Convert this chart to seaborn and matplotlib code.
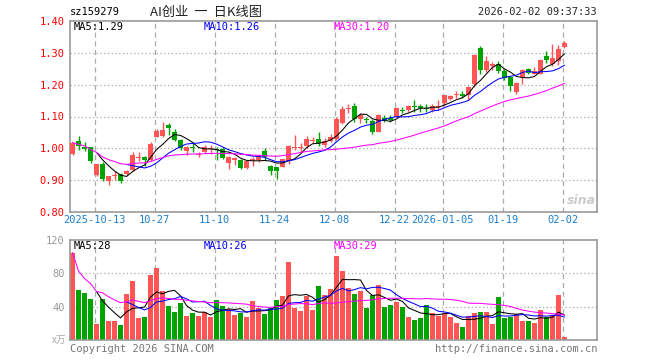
import numpy as np
import pandas as pd
import matplotlib
matplotlib.use("Agg")
import matplotlib.pyplot as plt
import seaborn as sns

# daily K data (83 trading days), volume in 万
opens = [0.982, 1.023, 1.005, 1.003, 0.917, 0.952, 0.896, 0.913, 0.918, 0.918,
         0.932, 0.969, 0.973, 0.962, 1.037, 1.040, 1.074, 1.050, 1.026, 0.993,
         1.005, 0.980, 0.987, 0.998, 0.998, 0.997, 0.955, 0.963, 0.963, 0.937,
         0.962, 0.963, 0.993, 0.946, 0.940, 0.942, 0.960, 1.000, 1.000, 1.007,
         1.024, 1.029, 1.011, 1.024, 1.029, 1.081, 1.122, 1.133, 1.091, 1.092,
         1.086, 1.052, 1.094, 1.094, 1.099, 1.118, 1.120, 1.134, 1.133, 1.128,
         1.121, 1.130, 1.142, 1.154, 1.168, 1.172, 1.166, 1.203, 1.316, 1.247,
         1.260, 1.266, 1.242, 1.224, 1.177, 1.224, 1.248, 1.235, 1.235, 1.289,
         1.266, 1.274, 1.318]
highs = [1.021, 1.038, 1.020, 1.005, 0.951, 0.957, 0.914, 0.928, 0.921, 0.932,
         0.990, 0.988, 0.975, 1.021, 1.062, 1.083, 1.080, 1.062, 1.028, 1.006,
         1.018, 0.990, 1.010, 1.012, 1.005, 1.005, 0.976, 0.972, 0.966, 0.962,
         0.974, 0.982, 1.001, 0.948, 0.942, 0.968, 1.010, 1.042, 1.016, 1.038,
         1.035, 1.052, 1.031, 1.045, 1.099, 1.133, 1.138, 1.141, 1.110, 1.100,
         1.091, 1.107, 1.104, 1.105, 1.131, 1.131, 1.136, 1.151, 1.138, 1.138,
         1.138, 1.151, 1.168, 1.169, 1.179, 1.179, 1.196, 1.296, 1.320, 1.289,
         1.271, 1.273, 1.250, 1.226, 1.207, 1.250, 1.252, 1.255, 1.280, 1.306,
         1.327, 1.324, 1.336]
lows = [0.980, 0.995, 0.993, 0.955, 0.913, 0.898, 0.884, 0.900, 0.892, 0.915,
        0.930, 0.960, 0.945, 0.960, 1.035, 1.035, 1.043, 1.022, 0.995, 0.979,
        0.988, 0.972, 0.985, 0.982, 0.962, 0.965, 0.934, 0.948, 0.935, 0.935,
        0.944, 0.958, 0.963, 0.916, 0.905, 0.940, 0.950, 0.995, 0.990, 1.000,
        1.016, 1.007, 1.003, 1.021, 1.026, 1.078, 1.110, 1.084, 1.081, 1.079,
        1.045, 1.050, 1.082, 1.084, 1.097, 1.110, 1.115, 1.114, 1.114, 1.114,
        1.114, 1.121, 1.132, 1.151, 1.159, 1.158, 1.151, 1.193, 1.235, 1.240,
        1.247, 1.238, 1.216, 1.180, 1.172, 1.203, 1.235, 1.232, 1.232, 1.269,
        1.259, 1.263, 1.316]
closes = [1.018, 1.007, 0.999, 0.961, 0.951, 0.903, 0.913, 0.917, 0.896, 0.929,
          0.979, 0.972, 0.962, 1.013, 1.055, 1.058, 1.064, 1.026, 1.000, 1.005,
          1.000, 0.983, 1.003, 1.000, 0.995, 0.970, 0.974, 0.969, 0.938, 0.960,
          0.964, 0.973, 0.974, 0.929, 0.929, 0.965, 1.008, 1.004, 1.003, 1.029,
          1.027, 1.016, 1.024, 1.035, 1.091, 1.122, 1.128, 1.091, 1.105, 1.088,
          1.052, 1.105, 1.089, 1.090, 1.126, 1.116, 1.133, 1.130, 1.126, 1.125,
          1.132, 1.132, 1.166, 1.164, 1.170, 1.164, 1.193, 1.294, 1.247, 1.273,
          1.264, 1.243, 1.221, 1.196, 1.205, 1.247, 1.238, 1.243, 1.276, 1.279,
          1.285, 1.313, 1.331]
volumes = [105, 60.6, 56, 49.5, 19.8, 49.5, 22.3, 22.3, 18.6, 55.7,
           70.5, 26, 27.2, 77.9, 86.6, 59.4, 40.8, 33.4, 44.5, 28.5,
           32.2, 28.5, 33.4, 27.2, 48.2, 40.8, 37.1, 29.7, 32.2, 27.2,
           47, 38.4, 30.9, 38.4, 48.2, 53.2, 94, 38.4, 34.6, 53.2,
           35.9, 64.3, 54.4, 61, 101, 83.2, 62.2, 55, 58.6, 38,
           53.7, 65.9, 39.2, 41.6, 45.3, 39.2, 27.1, 24.6, 25.9, 41.6,
           31.9, 28.3, 30.7, 27.1, 21, 16.2, 28.3, 31.9, 33.1, 33.1,
           19.8, 51.3, 25.9, 27.1, 30.7, 23.4, 23.4, 21, 35.6, 27.1,
           29.5, 53.7, 3.2]

date_ticks = [4, 14, 24, 34, 44, 54, 62, 72, 82]
date_labels = ["2025-10-13", "10-27", "11-10", "11-24", "12-08",
               "12-22", "2026-01-05", "01-19", "02-02"]
price_ticks = [0.80, 0.90, 1.00, 1.10, 1.20, 1.30, 1.40]
vol_ticks = [40, 80, 120]

RED = "#ff5555"
GREEN = "#00a300"
GRID = "#aaaaaa"
SPINE = "#999999"

df = pd.DataFrame({"open": opens, "high": highs, "low": lows,
                   "close": closes, "vol": volumes})
df["i"] = np.arange(len(df))
df["color"] = np.where(df["close"] >= df["open"], RED, GREEN)
df["ma5"] = df["close"].rolling(5).mean()
df["ma10"] = df["close"].rolling(10).mean()
df["ma30"] = df["close"].rolling(30, min_periods=1).mean()
df["vma5"] = df["vol"].rolling(5).mean()
df["vma10"] = df["vol"].rolling(10).mean()
df["vma30"] = df["vol"].rolling(30, min_periods=1).mean()

sns.set_theme(style="white")
plt.rcParams["font.family"] = ["DejaVu Sans Mono", "Noto Sans CJK SC"]

fig = plt.figure(figsize=(6.6, 3.6), dpi=100)
W, H = 660, 360
ax = fig.add_axes([70 / W, 1 - 212 / H, 527 / W, 191 / H])
axv = fig.add_axes([70 / W, 1 - 340 / H, 527 / W, 100 / H])

grid_x = [t - 0.3 for t in date_ticks]
for a in (ax, axv):
    a.set_facecolor("white")
    for gx in grid_x:
        a.axvline(gx, color=GRID, lw=0.9, ls=(0, (4, 3)), zorder=0)
    for s in a.spines.values():
        s.set_color(SPINE)
        s.set_linewidth(1.2)
    a.set_xlim(-0.42, 87.42)
    a.tick_params(length=0)

for gy in price_ticks[1:-1]:
    ax.axhline(gy, color=GRID, lw=0.9, ls=(0, (1, 2)), zorder=0)
for gy in vol_ticks[:-1]:
    axv.axhline(gy, color=GRID, lw=0.9, ls=(0, (1, 2)), zorder=0)

# candles
ax.vlines(df["i"], df["low"], df["high"], colors=df["color"], lw=1.0, zorder=2)
body_lo = np.minimum(df["open"], df["close"])
body_h = np.maximum(np.abs(df["close"] - df["open"]), 0.003)
ax.bar(df["i"], body_h, bottom=body_lo, width=0.8, color=df["color"],
       linewidth=0, zorder=3)
for col, c in (("ma5", "black"), ("ma10", "#0000ff"), ("ma30", "#ff00ff")):
    sns.lineplot(x=df["i"], y=df[col], ax=ax, color=c, lw=0.75, zorder=4)
ax.set_ylim(0.80, 1.40)
ax.set_yticks(price_ticks)
ax.set_yticklabels([f"{v:.2f}" for v in price_ticks], color="red", fontsize=7.5)
ax.set_xticks(grid_x)
ax.set_xticklabels(date_labels, color="#1a7fd0", fontsize=7.5)
ax.tick_params(axis="y", pad=4)
ax.tick_params(axis="x", pad=2)
ax.set_xlabel("")
ax.set_ylabel("")

# volume
axv.bar(df["i"], df["vol"], width=0.8, color=df["color"], linewidth=0, zorder=2)
for col, c in (("vma5", "black"), ("vma10", "#0000ff"), ("vma30", "#ff00ff")):
    sns.lineplot(x=df["i"], y=df[col], ax=axv, color=c, lw=0.75, zorder=4)
axv.set_ylim(0, 120)
axv.set_yticks(vol_ticks)
axv.set_yticklabels([str(v) for v in vol_ticks], color="#999999", fontsize=7.5)
axv.tick_params(axis="y", pad=4)
axv.set_xticks([])
axv.set_xlabel("")
axv.set_ylabel("")

# labels
def px(x, y, s, **kw):
    fig.text(x / W, 1 - y / H, s, **kw)

px(70, 12, "sz159279", fontsize=7.5, va="center", color="black")
px(150, 12, "AI创业  一  日K线图", fontsize=9.5, va="center", ha="left",
   family=["Noto Sans CJK SC", "DejaVu Sans"], color="#222222")
px(597, 12, "2026-02-02 09:37:33", fontsize=7.5, va="center", ha="right")
px(74, 27, "MA5:1.29", fontsize=7.5, va="center", color="black")
px(204, 27, "MA10:1.26", fontsize=7.5, va="center", color="#0000ff")
px(334, 27, "MA30:1.20", fontsize=7.5, va="center", color="#ff00ff")
px(74, 246, "MA5:28", fontsize=7.5, va="center", color="black")
px(204, 246, "MA10:26", fontsize=7.5, va="center", color="#0000ff")
px(334, 246, "MA30:29", fontsize=7.5, va="center", color="#ff00ff")
px(66, 340, "x万", fontsize=7, va="center", ha="right", color="#aaaaaa",
   family=["Noto Sans CJK SC", "DejaVu Sans"])
px(70, 349, "Copyright 2026 SINA.COM", fontsize=7.5, va="center", color="#777777")
px(597, 349, "http://finance.sina.com.cn", fontsize=7.5, va="center",
   ha="right", color="#777777")
px(596, 201, "sina", fontsize=9, va="center", ha="right", color="#cccccc",
   style="italic", weight="bold", family="DejaVu Sans")

fig.savefig("out.png", dpi=100)
